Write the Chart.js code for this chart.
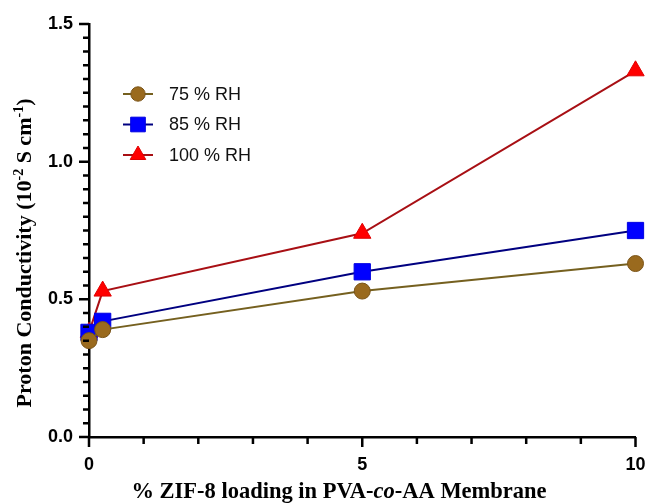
<!doctype html>
<html lang="en">

<head>
    <meta charset="utf-8">
    <title>Proton Conductivity vs ZIF-8 loading</title>
    <script src="https://cdn.jsdelivr.net/npm/chart.js"></script>
    <style>
        html, body {
            margin: 0;
            padding: 0;
            background: #fff;
        }

        #condChart {
            display: block;
        }
    </style>
</head>

<body>
    <canvas id="condChart" width="648" height="504"></canvas>

    <script>
        // % ZIF-8 loading
        const loading = [0, 0.25, 5, 10];
        // proton conductivity, 10^-2 S cm^-1
        const rh75 = [0.35, 0.39, 0.53, 0.63];
        const rh85 = [0.38, 0.42, 0.60, 0.75];
        const rh100 = [0.38, 0.53, 0.74, 1.33];
        const seriesLabels = ['75 % RH', '85 % RH', '100 % RH'];

        const xMajor = [0, 5, 10];
        const yMajor = [0, 0.5, 1.0, 1.5];

        const toPoints = (ys) => loading.map((x, i) => ({ x: x, y: ys[i] }));

        // tick marks outside the axes, major + minor
        const axisTicks = {
            id: 'axisTicks',
            afterDraw(chart) {
                const ctx = chart.ctx;
                const xs = chart.scales.x;
                const ys = chart.scales.y;
                const area = chart.chartArea;
                ctx.save();
                ctx.strokeStyle = '#000';
                ctx.lineWidth = 2.5;
                ctx.beginPath();
                for (let v = 0; v <= 10; v += 1) {
                    const px = xs.getPixelForValue(v);
                    const len = v % 5 === 0 ? 10 : 7;
                    ctx.moveTo(px, area.bottom);
                    ctx.lineTo(px, area.bottom + len);
                }
                for (let i = 0; i <= 30; i++) {
                    const py = ys.getPixelForValue(i * 0.05);
                    const len = i % 10 === 0 ? 10 : 6;
                    ctx.moveTo(area.left, py);
                    ctx.lineTo(area.left - len, py);
                }
                ctx.stroke();
                ctx.restore();
            }
        };

        // axis titles with superscripts and italics
        const axisTitles = {
            id: 'axisTitles',
            afterDraw(chart) {
                const ctx = chart.ctx;
                ctx.save();
                ctx.fillStyle = '#000';
                ctx.textBaseline = 'alphabetic';

                const runs = (parts, big, small) => parts.map(p => {
                    const size = p.sup ? small : big;
                    const font = (p.italic ? 'italic ' : '') + 'bold ' + size + 'px "Liberation Serif", "Times New Roman", serif';
                    ctx.font = font;
                    return { text: p.text, font: font, w: ctx.measureText(p.text).width, sup: p.sup };
                });
                const drawRuns = (rs, x0, y0, rise) => {
                    let x = x0;
                    rs.forEach(r => {
                        ctx.font = r.font;
                        ctx.fillText(r.text, x, r.sup ? y0 - rise : y0);
                        x += r.w;
                    });
                };

                // x title
                const xr = runs([
                    { text: '% ZIF-8 loading in PVA-' },
                    { text: 'co', italic: true },
                    { text: '-AA Membrane' }
                ], 22.5, 14);
                const xw = xr.reduce((s, r) => s + r.w, 0);
                drawRuns(xr, 339 - xw / 2, 498, 0);

                // y title, rotated
                const yr = runs([
                    { text: 'Proton Conductivity (10' },
                    { text: '-2', sup: true },
                    { text: ' S cm' },
                    { text: '-1', sup: true },
                    { text: ')' }
                ], 22, 14);
                const yw = yr.reduce((s, r) => s + r.w, 0);
                ctx.translate(31, 253);
                ctx.rotate(-Math.PI / 2);
                drawRuns(yr, -yw / 2, 0, 8);
                ctx.restore();
            }
        };

        // legend inside the plot area
        const innerLegend = {
            id: 'innerLegend',
            afterDraw(chart) {
                const ctx = chart.ctx;
                ctx.save();
                chart.data.datasets.forEach((ds, i) => {
                    const cy = 94 + i * 30.5;
                    const cx = 138;
                    ctx.strokeStyle = ds.borderColor;
                    ctx.lineWidth = 2;
                    ctx.beginPath();
                    ctx.moveTo(cx - 15, cy);
                    ctx.lineTo(cx + 15, cy);
                    ctx.stroke();
                    ctx.fillStyle = ds.pointBackgroundColor;
                    ctx.strokeStyle = ds.pointBorderColor;
                    ctx.lineWidth = 1;
                    Chart.helpers.drawPoint(ctx, {
                        pointStyle: ds.pointStyle,
                        radius: ds.pointRadius * 0.9,
                        rotation: 0,
                        borderWidth: 1
                    }, cx, cy);
                    ctx.fillStyle = '#111';
                    ctx.font = '18px "Liberation Sans", Arial, sans-serif';
                    ctx.textBaseline = 'middle';
                    ctx.fillText(ds.label, 169, cy + 1);
                });
                ctx.restore();
            }
        };

        const ctx = document.getElementById('condChart').getContext('2d');

        new Chart(ctx, {
            type: 'line',
            data: {
                datasets: [
                    {
                        label: seriesLabels[0],
                        data: toPoints(rh75),
                        borderColor: '#75601f',
                        borderWidth: 2,
                        pointStyle: 'circle',
                        pointRadius: 8,
                        pointBackgroundColor: '#9a6a1e',
                        pointBorderColor: '#7a5418',
                        pointBorderWidth: 1,
                        clip: false
                    },
                    {
                        label: seriesLabels[1],
                        data: toPoints(rh85),
                        borderColor: '#000080',
                        borderWidth: 2,
                        pointStyle: 'rect',
                        pointRadius: 11.5,
                        pointBackgroundColor: '#0000ff',
                        pointBorderColor: '#0000e0',
                        pointBorderWidth: 1,
                        clip: false
                    },
                    {
                        label: seriesLabels[2],
                        data: toPoints(rh100),
                        borderColor: '#a80f14',
                        borderWidth: 2,
                        pointStyle: 'triangle',
                        pointRadius: 10,
                        pointBackgroundColor: '#ff0000',
                        pointBorderColor: '#e00000',
                        pointBorderWidth: 1,
                        clip: false
                    }
                ]
            },
            options: {
                responsive: false,
                animation: false,
                devicePixelRatio: 1,
                layout: {
                    padding: { left: 0, right: 11, top: 24, bottom: 0 }
                },
                plugins: {
                    legend: { display: false },
                    tooltip: { enabled: false }
                },
                scales: {
                    x: {
                        type: 'linear',
                        min: 0,
                        max: 10,
                        afterBuildTicks: (scale) => {
                            scale.ticks = xMajor.map(v => ({ value: v }));
                        },
                        afterFit: (scale) => {
                            scale.height = 67;
                            scale.paddingLeft = 0;
                            scale.paddingRight = 0;
                        },
                        grid: { display: false },
                        border: { display: true, color: '#000', width: 2.5 },
                        ticks: {
                            color: '#000',
                            font: { family: '"Liberation Sans", Arial, sans-serif', size: 18, weight: 'bold' },
                            padding: 9,
                            maxRotation: 0,
                            callback: (v) => String(v)
                        }
                    },
                    y: {
                        type: 'linear',
                        min: 0,
                        max: 1.5,
                        afterBuildTicks: (scale) => {
                            scale.ticks = yMajor.map(v => ({ value: v }));
                        },
                        afterFit: (scale) => {
                            scale.width = 89;
                            scale.paddingTop = 0;
                            scale.paddingBottom = 0;
                        },
                        grid: { display: false },
                        border: { display: true, color: '#000', width: 2.5 },
                        ticks: {
                            color: '#000',
                            font: { family: '"Liberation Sans", Arial, sans-serif', size: 18, weight: 'bold' },
                            padding: 8,
                            callback: (v) => v.toFixed(1)
                        }
                    }
                }
            },
            plugins: [axisTicks, axisTitles, innerLegend]
        });
    </script>
</body>

</html>
